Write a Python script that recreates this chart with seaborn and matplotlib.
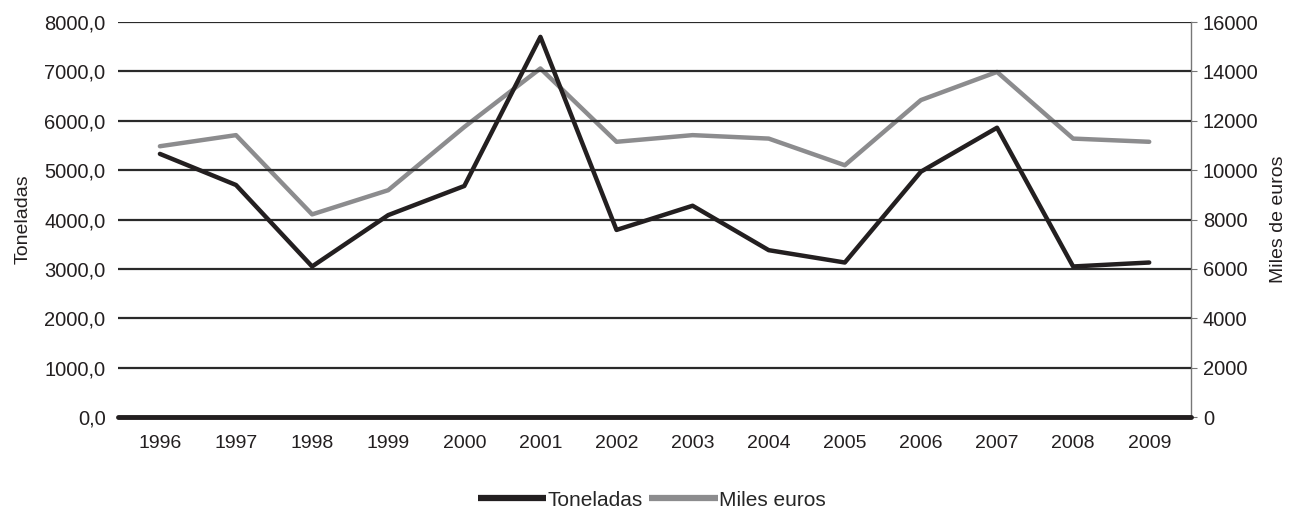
import matplotlib
matplotlib.use("Agg")
import matplotlib.pyplot as plt
import seaborn as sns
import pandas as pd
from matplotlib.ticker import FuncFormatter, MultipleLocator
from matplotlib.lines import Line2D

years = [1996, 1997, 1998, 1999, 2000, 2001, 2002, 2003, 2004, 2005, 2006, 2007, 2008, 2009]
toneladas = [5330, 4700, 3050, 4090, 4680, 7700, 3790, 4280, 3380, 3130, 4970, 5860, 3050, 3130]
miles_euros = [10970, 11420, 8210, 9190, 11750, 14120, 11150, 11420, 11280, 10200, 12840, 13980, 11280, 11150]

df = pd.DataFrame({"year": years, "Toneladas": toneladas, "Miles euros": miles_euros})

sns.set_style("white")
plt.rcParams["font.family"] = ["Liberation Sans", "DejaVu Sans"]

c_black = "#231f20"
c_gray = "#8c8c8e"
grid_c = "#2a2a2a"
txt_c = "#231f20"

fig = plt.figure(figsize=(13.03, 5.13), dpi=100)
ax = fig.add_axes([0.0906, 0.187, 0.8235, 0.770])
ax2 = ax.twinx()

ax.set_ylim(0, 8000)
ax.yaxis.set_major_locator(MultipleLocator(1000))
ax.grid(axis="y", color=grid_c, linewidth=1.6)
ax.grid(axis="x", visible=False)
ax.set_axisbelow(True)

sns.lineplot(data=df, x="year", y="Miles euros", ax=ax2,
             color=c_gray, linewidth=3.2, legend=False)
sns.lineplot(data=df, x="year", y="Toneladas", ax=ax, color=c_black,
             linewidth=3.2, legend=False)
ax.set_zorder(ax2.get_zorder() + 1)
ax.patch.set_visible(False)

ax.set_xlim(1995.45, 2009.55)
ax.set_xticks(years)
ax.set_xticklabels([str(y) for y in years])
ax2.set_ylim(0, 16000)
ax2.yaxis.set_major_locator(MultipleLocator(2000))

ax.yaxis.set_major_formatter(FuncFormatter(lambda v, p: f"{v:.1f}".replace(".", ",")))

for a in (ax, ax2):
    for s in ("top", "left", "right", "bottom"):
        a.spines[s].set_visible(False)
ax2.spines["right"].set_visible(True)
ax2.spines["right"].set_color("#777777")
ax2.spines["right"].set_linewidth(1.0)
ax.axhline(0, color=c_black, linewidth=3.5, zorder=5, clip_on=False)

ax.tick_params(axis="y", length=0, labelsize=14.5, pad=9, colors=txt_c)
ax.tick_params(axis="x", length=0, labelsize=14, pad=13, colors=txt_c)
ax2.tick_params(axis="y", length=4.5, color="#777777", labelsize=14.5, pad=4, labelcolor=txt_c)

ax.set_xlabel("")
ax.set_ylabel("Toneladas", fontsize=14, color=txt_c, labelpad=9)
ax2.set_ylabel("Miles de euros", fontsize=14, color=txt_c, labelpad=8)

handles = [Line2D([], [], color=c_black, linewidth=4.5, solid_capstyle="butt"),
           Line2D([], [], color=c_gray, linewidth=4.5, solid_capstyle="butt")]
fig.legend(handles, ["Toneladas", "Miles euros"], loc="center", bbox_to_anchor=(0.5, 0.025),
           ncol=2, frameon=False, fontsize=15, handlelength=3.3, handletextpad=0.05,
           columnspacing=0.3)

fig.savefig("out.png", dpi=100)
